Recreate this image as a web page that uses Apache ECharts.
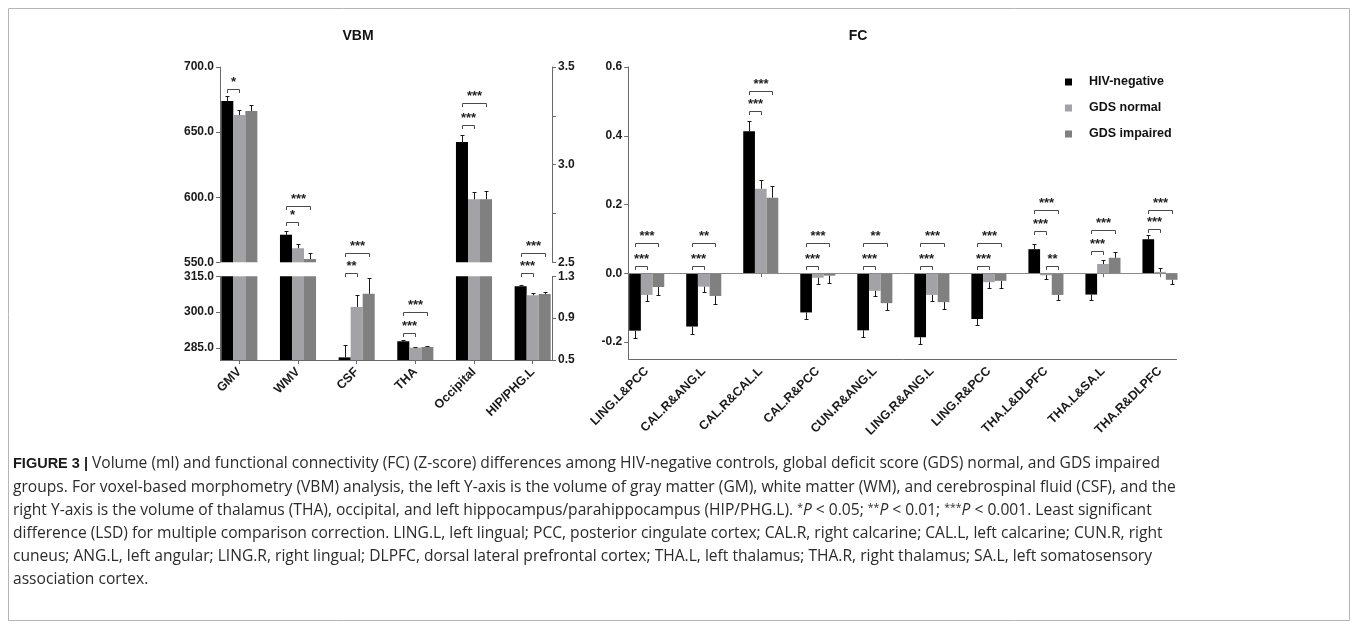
<!DOCTYPE html>
<html><head><meta charset="utf-8">
<script src="https://cdn.jsdelivr.net/npm/echarts@6/dist/echarts.min.js"></script>
<style>html,body{margin:0;padding:0;background:#fff}#c{width:1357px;height:629px}</style>
</head><body><div id="c"></div>
<script>
// ---------------- DATA ----------------
const groupNames = ['HIV-negative', 'GDS normal', 'GDS impaired'];

const vbmCategories = ['GMV', 'WMV', 'CSF', 'THA', 'Occipital', 'HIP/PHG.L'];
// true = category is read on the right Y-axis
const vbmRightAxis = [false, false, false, true, true, true];
const vbmHIV        = [673.9, 571.2, 281.1, 0.679, 3.116, 1.205];
const vbmHIVErr     = [4.1, 3.1, 5.0, 0.012, 0.034, 0.015];
const vbmNormal     = [663.1, 560.8, 302.2, 0.618, 2.823, 1.119];
const vbmNormalErr  = [3.6, 3.2, 4.9, 0.009, 0.035, 0.019];
const vbmImpaired   = [666.2, 552.5, 307.7, 0.624, 2.823, 1.131];
const vbmImpairedErr= [4.4, 4.4, 6.4, 0.013, 0.041, 0.019];
// [category, fromGroup, toGroup, level (axis units), label]
const vbmBrackets = [
  [0, 0, 1, 683.3, '*'],
  [1, 0, 1, 580.7, '*'], [1, 0, 2, 593.2, '***'],
  [2, 0, 1, 316.5, '**'], [2, 0, 2, 556.9, '***'],
  [3, 0, 1, 0.755, '***'], [3, 0, 2, 0.962, '***'],
  [4, 0, 1, 3.201, '***'], [4, 0, 2, 3.314, '***'],
  [5, 0, 1, 1.335, '***'], [5, 0, 2, 2.546, '***']
];
const vbmLeftUpperTicks  = [550, 600, 650, 700];
const vbmRightUpperTicks = [2.5, 3.0, 3.5];
const vbmRightUpperMinor = [2.5, 2.75, 3.0, 3.25, 3.5];
const vbmLeftLowerTicks  = [285, 300, 315];
const vbmRightLowerTicks = [0.5, 0.9, 1.3];

const fcCategories = ['LING.L&PCC', 'CAL.R&ANG.L', 'CAL.R&CAL.L', 'CAL.R&PCC', 'CUN.R&ANG.L',
  'LING.R&ANG.L', 'LING.R&PCC', 'THA.L&DLPFC', 'THA.L&SA.L', 'THA.R&DLPFC'];
const fcHIV         = [-0.167, -0.155, 0.413, -0.114, -0.166, -0.186, -0.133, 0.070, -0.062, 0.099];
const fcHIVErr      = [0.022, 0.021, 0.030, 0.020, 0.018, 0.020, 0.017, 0.014, 0.017, 0.012];
const fcNormal      = [-0.063, -0.039, 0.246, -0.013, -0.051, -0.063, -0.026, -0.006, 0.027, 0.004];
const fcNormalErr   = [0.017, 0.016, 0.025, 0.018, 0.015, 0.017, 0.017, 0.012, 0.013, 0.011];
const fcImpaired    = [-0.040, -0.066, 0.220, -0.007, -0.087, -0.084, -0.022, -0.063, 0.045, -0.019];
const fcImpairedErr = [0.022, 0.023, 0.033, 0.022, 0.021, 0.021, 0.022, 0.016, 0.017, 0.013];
const fcBrackets = [
  [0, 0, 1, 0.022, '***'], [0, 0, 2, 0.088, '***'],
  [1, 0, 1, 0.022, '***'], [1, 0, 2, 0.088, '**'],
  [2, 0, 1, 0.471, '***'], [2, 0, 2, 0.529, '***'],
  [3, 0, 1, 0.022, '***'], [3, 0, 2, 0.088, '***'],
  [4, 0, 1, 0.022, '***'], [4, 0, 2, 0.088, '**'],
  [5, 0, 1, 0.020, '***'], [5, 0, 2, 0.087, '***'],
  [6, 0, 1, 0.020, '***'], [6, 0, 2, 0.087, '***'],
  [7, 0, 1, 0.124, '***'], [7, 0, 2, 0.183, '***'], [7, 1, 2, 0.020, '**'],
  [8, 0, 1, 0.066, '***'], [8, 0, 2, 0.125, '***'],
  [9, 0, 1, 0.128, '***'], [9, 0, 2, 0.183, '***']
];
const fcTicks = [-0.2, 0.0, 0.2, 0.4, 0.6];

const captionLines = [
  '{b|FIGURE 3 |} Volume (ml) and functional connectivity (FC) (Z-score) differences among HIV-negative controls, global deficit score (GDS) normal, and GDS impaired',
  'groups. For voxel-based morphometry (VBM) analysis, the left Y-axis is the volume of gray matter (GM), white matter (WM), and cerebrospinal fluid (CSF), and the',
  'right Y-axis is the volume of thalamus (THA), occipital, and left hippocampus/parahippocampus (HIP/PHG.L). {s|*}{i|P} < 0.05; {s|**}{i|P} < 0.01; {s|***}{i|P} < 0.001. Least significant',
  'difference (LSD) for multiple comparison correction. LING.L, left lingual; PCC, posterior cingulate cortex; CAL.R, right calcarine; CAL.L, left calcarine; CUN.R, right',
  'cuneus; ANG.L, left angular; LING.R, right lingual; DLPFC, dorsal lateral prefrontal cortex; THA.L, left thalamus; THA.R, right thalamus; SA.L, left somatosensory',
  'association cortex.'
];

// ---------------- STYLE / LAYOUT ----------------
const FONT = '"Liberation Sans", Arial, Helvetica, sans-serif';
const CAP_FONT = '"Open Sans", "Liberation Sans", Arial, sans-serif';
const CAP_SIZE = 15.6;
const groupColors = ['#000000', '#a3a3a7', '#808080'];
const AXIS_COLOR = '#6a6a6a';
const GAP = 0.385;
const INSET = 10;
const VBM = { left: 210, width: 352, upperTop: 67, upperH: 195.3, lowerTop: 276.3, lowerH: 83.7 };
const FCG = { left: 618.2, width: 570.3, top: 67, height: 292.2 };

const chart = echarts.init(document.getElementById('c'), null, { renderer: 'canvas' });

function yAxisDef(gridIndex, position, min, max, labelVals, tickVals) {
  return {
    type: 'value', gridIndex, position, offset: -INSET, min, max,
    axisLine: { show: true, lineStyle: { color: AXIS_COLOR, width: 1 } },
    axisTick: { show: true, length: 4, customValues: tickVals, lineStyle: { color: AXIS_COLOR } },
    axisLabel: { customValues: labelVals, showMinLabel: true, showMaxLabel: true,
      formatter: v => Number(v).toFixed(1), margin: 6, color: '#1a1a1a',
      fontFamily: FONT, fontWeight: 'bold', fontSize: 12 },
    splitLine: { show: false }
  };
}
function xAxisDef(gridIndex, cats, visible) {
  return {
    type: 'category', gridIndex, data: cats, show: visible,
    axisLine: { show: false },
    axisTick: { show: true, alignWithLabel: true, length: 4, interval: 0, lineStyle: { color: AXIS_COLOR } },
    axisLabel: { rotate: 45, interval: 0, margin: 10, color: '#1a1a1a', fontFamily: FONT, fontWeight: 'bold', fontSize: 12.5 },
    splitLine: { show: false }
  };
}

function barSeries(g, xi, yi, data) {
  return { type: 'bar', name: groupNames[g], xAxisIndex: xi, yAxisIndex: yi, data,
    barGap: '0%', barCategoryGap: (GAP * 100) + '%', clip: true, silent: true,
    itemStyle: { color: groupColors[g] } };
}
function errRender(g) {
  return function (params, api) {
    const v = api.value(1), e = api.value(2), cat = api.value(0);
    if (isNaN(v) || isNaN(e)) return;
    const dir = v < 0 ? -1 : 1;
    const p0 = api.coord([cat, v]);
    const p1 = api.coord([cat, v + dir * e]);
    const cs = params.coordSys;
    if (p1[1] < cs.y - 0.5 || p1[1] > cs.y + cs.height + 0.5) return;
    if (p0[1] < cs.y - 0.5 || p0[1] > cs.y + cs.height + 0.5) return;
    const bw = api.size([1, 0])[0] * (1 - GAP) / 3;
    const x = Math.round(p0[0] + (g - 1) * bw) + 0.5;
    const ya = p0[1], yb = Math.round(p1[1]) + 0.5;
    return { type: 'group', children: [
      { type: 'line', shape: { x1: x, y1: ya, x2: x, y2: yb }, style: { stroke: '#1a1a1a', lineWidth: 1 } },
      { type: 'line', shape: { x1: x - 2, y1: yb, x2: x + 2, y2: yb }, style: { stroke: '#1a1a1a', lineWidth: 1 } }
    ] };
  };
}
function errSeries(g, xi, yi, vals, errs, keep) {
  const data = [];
  vals.forEach((v, i) => { if (keep(i)) data.push([i, v, errs[i]]); });
  return { type: 'custom', xAxisIndex: xi, yAxisIndex: yi, data, renderItem: errRender(g),
    encode: { x: 0, y: 1 }, silent: true, z: 5 };
}
function bracketSeries(xi, yi, list) {
  return {
    type: 'custom', xAxisIndex: xi, yAxisIndex: yi, silent: true, z: 6, clip: false,
    data: list.map(b => [b[0], b[3]]), encode: { x: 0, y: 1 },
    renderItem: function (params, api) {
      const b = list[params.dataIndex];
      const c = api.coord([b[0], b[3]]);
      const bw = api.size([1, 0])[0] * (1 - GAP) / 3;
      const x1 = Math.round(c[0] + (b[1] - 1) * bw) + 0.5;
      const x2 = Math.round(c[0] + (b[2] - 1) * bw) + 0.5;
      const y = Math.round(c[1]) + 0.5;
      return { type: 'group', children: [
        { type: 'polyline', shape: { points: [[x1, y + 3.5], [x1, y], [x2, y], [x2, y + 3.5]] },
          style: { stroke: '#4a4a4a', lineWidth: 1, fill: null } },
        { type: 'text', style: { x: (x1 + x2) / 2, y: y - 1, text: b[4], align: 'center', verticalAlign: 'bottom',
          textAlign: 'center', textVerticalAlign: 'bottom',
          font: 'bold 13px ' + FONT, fill: '#222' } }
      ] };
    }
  };
}

const vbmVals = [vbmHIV, vbmNormal, vbmImpaired];
const vbmErrs = [vbmHIVErr, vbmNormalErr, vbmImpairedErr];
const fcVals = [fcHIV, fcNormal, fcImpaired];
const fcErrs = [fcHIVErr, fcNormalErr, fcImpairedErr];

const isLeft = i => !vbmRightAxis[i];
const isRight = i => vbmRightAxis[i];
// axis pairs: [xAxisIndex, yAxisIndex, side filter]
const vbmPairs = [[0, 0, isLeft], [1, 1, isRight], [2, 2, isLeft], [3, 3, isRight]];

const series = [];
vbmPairs.forEach(([xi, yi, keep]) => {
  for (let g = 0; g < 3; g++) series.push(barSeries(g, xi, yi, vbmVals[g].map((v, i) => keep(i) ? v : null)));
});
vbmPairs.forEach(([xi, yi, keep]) => {
  for (let g = 0; g < 3; g++) series.push(errSeries(g, xi, yi, vbmVals[g], vbmErrs[g], keep));
});
// VBM brackets split by side and by axis section
const upperMinLeft = vbmLeftUpperTicks[0], upperMinRight = vbmRightUpperTicks[0];
const bUL = vbmBrackets.filter(b => !vbmRightAxis[b[0]] && b[3] >= upperMinLeft);
const bUR = vbmBrackets.filter(b => vbmRightAxis[b[0]] && b[3] >= upperMinRight);
const bLL = vbmBrackets.filter(b => !vbmRightAxis[b[0]] && b[3] < upperMinLeft);
const bLR = vbmBrackets.filter(b => vbmRightAxis[b[0]] && b[3] < upperMinRight);
series.push(bracketSeries(0, 0, bUL), bracketSeries(1, 1, bUR), bracketSeries(2, 2, bLL), bracketSeries(3, 3, bLR));
// FC
for (let g = 0; g < 3; g++) series.push(barSeries(g, 4, 4, fcVals[g]));
for (let g = 0; g < 3; g++) series.push(errSeries(g, 4, 4, fcVals[g], fcErrs[g], () => true));
series.push(bracketSeries(4, 4, fcBrackets));

const option = {
  animation: false,
  backgroundColor: '#ffffff',
  textStyle: { fontFamily: FONT },
  grid: [
    { left: VBM.left, width: VBM.width, top: VBM.upperTop, height: VBM.upperH },
    { left: VBM.left, width: VBM.width, top: VBM.lowerTop, height: VBM.lowerH },
    { left: FCG.left, width: FCG.width, top: FCG.top, height: FCG.height }
  ],
  xAxis: [
    xAxisDef(0, vbmCategories, false),
    xAxisDef(0, vbmCategories, false),
    xAxisDef(1, vbmCategories, true),
    xAxisDef(1, vbmCategories, false),
    xAxisDef(2, fcCategories, true)
  ],
  yAxis: [
    yAxisDef(0, 'left', 550, 700, vbmLeftUpperTicks, vbmLeftUpperTicks),
    yAxisDef(0, 'right', 2.5, 3.5, vbmRightUpperTicks, vbmRightUpperMinor),
    yAxisDef(1, 'left', 280, 315, vbmLeftLowerTicks, vbmLeftLowerTicks),
    yAxisDef(1, 'right', 0.5, 1.3, vbmRightLowerTicks, vbmRightLowerTicks),
    yAxisDef(2, 'left', -0.25, 0.6, fcTicks, fcTicks)
  ],
  legend: {
    data: groupNames, orient: 'vertical', left: 1060, top: 70, icon: 'rect',
    itemWidth: 7, itemHeight: 7, itemGap: 12, selectedMode: false,
    textStyle: { fontFamily: FONT, fontWeight: 'bold', fontSize: 12.5, color: '#111', lineHeight: 14, padding: [0, 0, 0, 12] }
  },
  series
};
chart.setOption(option);

// axis base lines and zero line, positioned from the library's scales
const vbmX1 = VBM.left + INSET, vbmX2 = VBM.left + VBM.width - INSET;
const fcX1 = FCG.left + INSET, fcX2 = FCG.left + FCG.width - 11.5;
const yVbmBottom = Math.round(chart.convertToPixel({ yAxisIndex: 2 }, 280)) + 0.5;
const yFcBottom = Math.round(chart.convertToPixel({ yAxisIndex: 4 }, -0.25)) + 0.5;
const yFcZero = Math.round(chart.convertToPixel({ yAxisIndex: 4 }, 0)) + 0.5;

const graphics = [
  { type: 'rect', shape: { x: 8.5, y: 8.5, width: 1341, height: 612 }, style: { fill: null, stroke: '#b5b5b5', lineWidth: 1 }, silent: true },
  { type: 'line', shape: { x1: vbmX1, y1: yVbmBottom, x2: vbmX2, y2: yVbmBottom }, style: { stroke: AXIS_COLOR, lineWidth: 1 }, silent: true },
  { type: 'line', shape: { x1: fcX1, y1: yFcBottom, x2: fcX2, y2: yFcBottom }, style: { stroke: AXIS_COLOR, lineWidth: 1 }, silent: true },
  { type: 'line', shape: { x1: fcX1, y1: yFcZero, x2: fcX2, y2: yFcZero }, style: { stroke: '#8a8a8a', lineWidth: 1 }, silent: true, z: 10 },
  { type: 'text', style: { x: 358, y: 36, text: 'VBM', font: 'bold 14px ' + FONT, fill: '#111', align: 'center', verticalAlign: 'middle', textAlign: 'center', textVerticalAlign: 'middle' } },
  { type: 'text', style: { x: 858, y: 36, text: 'FC', font: 'bold 14px ' + FONT, fill: '#111', align: 'center', verticalAlign: 'middle', textAlign: 'center', textVerticalAlign: 'middle' } }
];
captionLines.forEach((t, k) => {
  graphics.push({ type: 'text', silent: true, style: {
    x: 13, y: 464 + k * 23.2, text: t, font: CAP_SIZE + 'px ' + CAP_FONT, fill: '#2b2b2b',
    verticalAlign: 'middle', textVerticalAlign: 'middle',
    rich: {
      b: { fontWeight: 'bold', fontSize: 14.5, fontFamily: FONT, fill: '#1a1a1a' },
      i: { fontStyle: 'italic', fontSize: CAP_SIZE, fontFamily: CAP_FONT, fill: '#2b2b2b' },
      s: { fontSize: 10.5, fontFamily: CAP_FONT, fill: '#2b2b2b', verticalAlign: 'top' }
    }
  } });
});
chart.setOption({ graphic: graphics });
</script></body></html>
